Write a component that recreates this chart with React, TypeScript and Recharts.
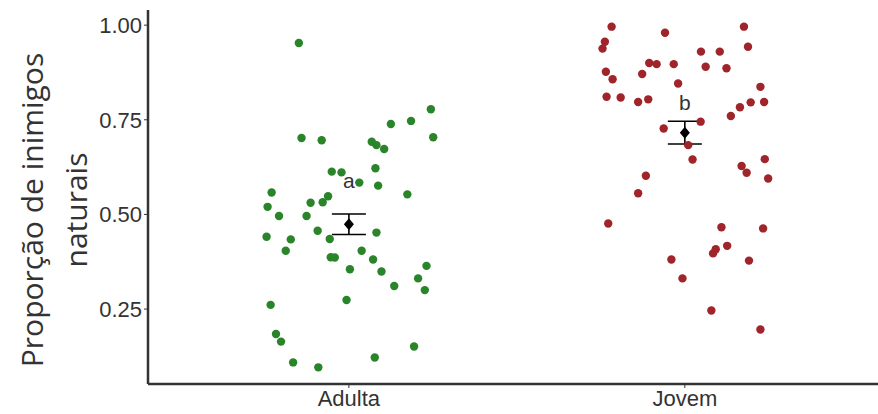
import { ScatterChart, Scatter, XAxis, YAxis, ErrorBar } from "recharts";

const categories = ["Adulta", "Jovem"];

const adultaJitter = [
  -0.149, -0.141, -0.081, 0.244, 0.251, 0.125, 0.185, 0.068, 0.082, 0.105, 0.079, -0.051, -0.022,
  0.031, 0.087, 0.174, -0.23, -0.242, -0.208, -0.114, -0.078, -0.062, -0.126, -0.245, -0.173,
  -0.188, -0.093, -0.057, 0.082, -0.054, -0.042, 0.038, 0.072, 0.003, 0.097, 0.135, 0.231, 0.206,
  0.226, -0.007, -0.233, -0.217, -0.202, -0.166, -0.091, 0.077, 0.194,
];
const adultaValues = [
  0.953, 0.702, 0.696, 0.778, 0.704, 0.739, 0.747, 0.692, 0.683, 0.673, 0.622, 0.613, 0.611, 0.584,
  0.576, 0.553, 0.558, 0.52, 0.496, 0.531, 0.532, 0.548, 0.496, 0.441, 0.434, 0.404, 0.457, 0.435,
  0.452, 0.387, 0.386, 0.404, 0.381, 0.355, 0.349, 0.311, 0.364, 0.331, 0.3, 0.274, 0.261, 0.184,
  0.164, 0.109, 0.096, 0.122, 0.151,
];

const jovemJitter = [
  -0.218, -0.238, -0.245, -0.059, 0.176, 0.188, 0.048, 0.104, -0.106, -0.084, -0.033, 0.062, 0.124,
  -0.235, -0.215, -0.127, -0.02, 0.225, -0.233, -0.191, -0.139, -0.109, 0.196, 0.236, 0.164, 0.137,
  0.047, -0.063, 0.01, 0.023, 0.238, 0.169, 0.184, 0.248, -0.116, -0.139, -0.228, 0.109, 0.233,
  0.126, 0.084, 0.092, -0.04, 0.191, -0.007, 0.079, 0.225,
];
const jovemValues = [
  0.996, 0.956, 0.938, 0.98, 0.996, 0.943, 0.93, 0.93, 0.9, 0.897, 0.897, 0.89, 0.886, 0.877, 0.857,
  0.871, 0.846, 0.837, 0.811, 0.809, 0.797, 0.804, 0.796, 0.797, 0.783, 0.76, 0.745, 0.727, 0.683,
  0.645, 0.646, 0.628, 0.61, 0.595, 0.602, 0.556, 0.476, 0.466, 0.463, 0.417, 0.397, 0.408, 0.381,
  0.378, 0.331, 0.246, 0.196,
];

const groupMeans = [0.474, 0.716];
const groupErrors = [0.027, 0.03];
const groupLetters = ["a", "b"];
const letterValues = [0.59, 0.795];
const yTicks = [0.25, 0.5, 0.75, 1.0];

const GREEN = "#2a842a";
const RED = "#a0252b";

const adultaData = adultaValues.map((y, i) => ({ x: 1 + adultaJitter[i], y }));
const jovemData = jovemValues.map((y, i) => ({ x: 2 + jovemJitter[i], y }));
const meanData = groupMeans.map((y, i) => ({ x: i + 1, y, err: groupErrors[i] }));
const letterData = letterValues.map((y, i) => ({ x: i + 1, y, label: groupLetters[i] }));

const dot = (color: string) => (p: any) => <circle cx={p.cx} cy={p.cy} r={4.2} fill={color} />;

const diamond = (p: any) => (
  <polygon
    points={`${p.cx},${p.cy - 6} ${p.cx + 5},${p.cy} ${p.cx},${p.cy + 6} ${p.cx - 5},${p.cy}`}
    fill="#000"
  />
);

const letter = (p: any) => (
  <text
    x={p.cx}
    y={p.cy}
    textAnchor="middle"
    dominantBaseline="central"
    fontSize={21}
    fill="#333"
    fontFamily="Liberation Sans, Arial, sans-serif"
  >
    {p.payload.label}
  </text>
);

const yTitle = () => (
  <g fontFamily="Open Sans, sans-serif" fontSize={30} fill="#333" textAnchor="middle">
    <text x={31} y={210} dominantBaseline="central" transform="rotate(-90, 31, 210)">
      Proporção de inimigos
    </text>
    <text x={75} y={210} dominantBaseline="central" transform="rotate(-90, 75, 210)">
      naturais
    </text>
  </g>
);

export default function App() {
  return (
    <div style={{ width: 878, height: 414, background: "#fff" }}>
      <style>{"body{margin:0}"}</style>
      <ScatterChart width={878} height={414} margin={{ top: 10, right: 0, bottom: 0, left: 0 }}>
        <XAxis
          type="number"
          dataKey="x"
          domain={[0.402, 2.575]}
          ticks={[1, 2]}
          tickFormatter={(v) => categories[Math.round(v) - 1]}
          height={30}
          tickSize={4}
          tick={{ fontSize: 22, fill: "#333", fontFamily: "Liberation Sans, Arial, sans-serif" }}
          axisLine={{ stroke: "#333", strokeWidth: 2.5 }}
          tickLine={{ stroke: "#333" }}
          allowDataOverflow
        />
        <YAxis
          type="number"
          dataKey="y"
          domain={[0.052, 1.04]}
          ticks={yTicks}
          tickFormatter={(v) => Number(v).toFixed(2)}
          width={148}
          tickSize={4}
          tick={{ fontSize: 22, fill: "#333", fontFamily: "Liberation Sans, Arial, sans-serif" }}
          axisLine={{ stroke: "#333", strokeWidth: 2.5 }}
          tickLine={{ stroke: "#333" }}
          allowDataOverflow
          label={{ content: yTitle }}
        />
        <Scatter data={adultaData} shape={dot(GREEN)} isAnimationActive={false} />
        <Scatter data={jovemData} shape={dot(RED)} isAnimationActive={false} />
        <Scatter data={meanData} shape={diamond} isAnimationActive={false}>
          <ErrorBar dataKey="err" direction="y" width={17} stroke="#000" strokeWidth={1.6} />
        </Scatter>
        <Scatter data={letterData} shape={letter} isAnimationActive={false} />
      </ScatterChart>
    </div>
  );
}
